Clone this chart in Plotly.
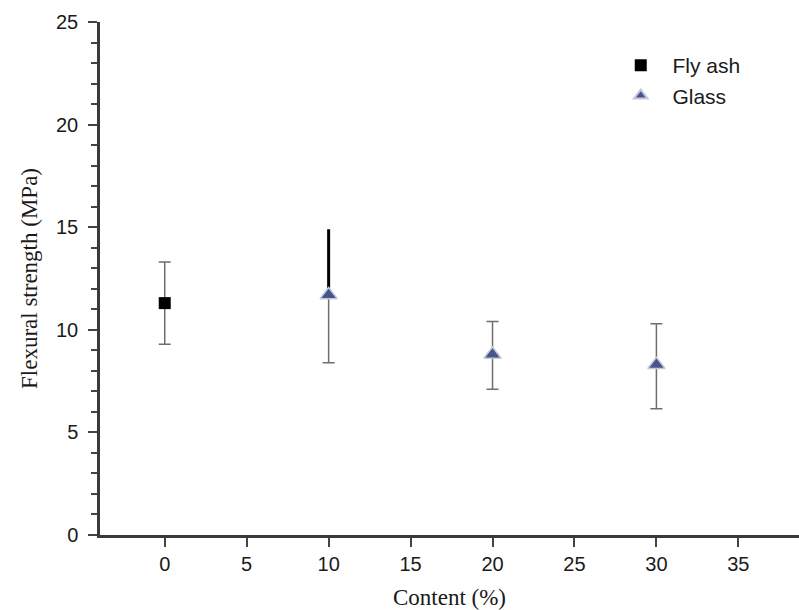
import plotly.graph_objects as go

fly_x = [0]
fly_y = [11.3]
fly_err_up = [2.0]
fly_err_down = [2.0]

glass_x = [10, 20, 30]
glass_y = [11.7, 8.8, 8.3]
glass_err_up = [3.2, 1.6, 2.0]
glass_err_down = [3.3, 1.7, 2.15]

x_ticks = [0, 5, 10, 15, 20, 25, 30, 35]
y_ticks = [0, 5, 10, 15, 20, 25]

NB = "\u00a0"

fig = go.Figure()

# Fly ash
fig.add_trace(go.Scatter(
    x=fly_x, y=fly_y, mode="markers", name=NB * 2 + "Fly ash",
    marker=dict(symbol="square", size=12, color="black"),
    error_y=dict(type="data", symmetric=False, array=fly_err_up, arrayminus=fly_err_down,
                 color="#6e6e6e", thickness=1.5, width=6),
))

# Glass: upper error of first point drawn dark (as in reference)
fig.add_trace(go.Scatter(
    x=glass_x[:1], y=glass_y[:1], mode="markers", showlegend=False, hoverinfo="skip",
    marker=dict(size=1, color="rgba(0,0,0,0)"),
    error_y=dict(type="data", symmetric=False, array=glass_err_up[:1], arrayminus=[0],
                 color="black", thickness=3, width=0),
))
fig.add_trace(go.Scatter(
    x=glass_x[1:], y=glass_y[1:], mode="markers", showlegend=False, hoverinfo="skip",
    marker=dict(size=1, color="rgba(0,0,0,0)"),
    error_y=dict(type="data", symmetric=False, array=glass_err_up[1:], arrayminus=[0, 0],
                 color="#6e6e6e", thickness=1.5, width=6),
))
fig.add_trace(go.Scatter(
    x=glass_x, y=glass_y, mode="markers", name=NB * 2 + "Glass",
    marker=dict(symbol="triangle-up", size=15, color="#46548a",
                line=dict(color="#c4c8dc", width=1.5)),
    error_y=dict(type="data", symmetric=False, array=[0, 0, 0], arrayminus=glass_err_down,
                 color="#6e6e6e", thickness=1.5, width=6),
))

fig.update_layout(
    width=799, height=610,
    margin=dict(l=100, r=0, t=22, b=75),
    plot_bgcolor="white", paper_bgcolor="white",
    font=dict(family="Liberation Sans, Arial", size=20, color="#1a1a1a"),
    legend=dict(x=0.745, y=0.955, xanchor="left", yanchor="top",
                bgcolor="rgba(0,0,0,0)", font=dict(size=21, family="Liberation Sans, Arial"),
                itemsizing="constant", tracegroupgap=0),
    xaxis=dict(
        range=[-3.95, 38.7], tickvals=x_ticks, ticks="outside", ticklen=9, tickwidth=2,
        tickcolor="#444", showline=True, linecolor="#3a3a3a", linewidth=2.5, showgrid=False,
        zeroline=False, tickfont=dict(size=20), ticklabelstandoff=0,
        title=dict(text="Content (%)", font=dict(family="Liberation Serif, Times New Roman", size=23),
                   standoff=16),
    ),
    yaxis=dict(
        range=[0, 25], tickvals=y_ticks, ticks="outside", ticklen=9, tickwidth=2,
        tickcolor="#444", showline=True, linecolor="#3a3a3a", linewidth=2.5, showgrid=False,
        zeroline=False, tickfont=dict(size=20), ticklabelstandoff=6,
        minor=dict(dtick=1, ticks="outside", ticklen=6, tickwidth=2, tickcolor="#444"),
        title=dict(text="Flexural strength (MPa)", font=dict(family="Liberation Serif, Times New Roman", size=23),
                   standoff=12),
    ),
)

fig.write_html("out.html")
